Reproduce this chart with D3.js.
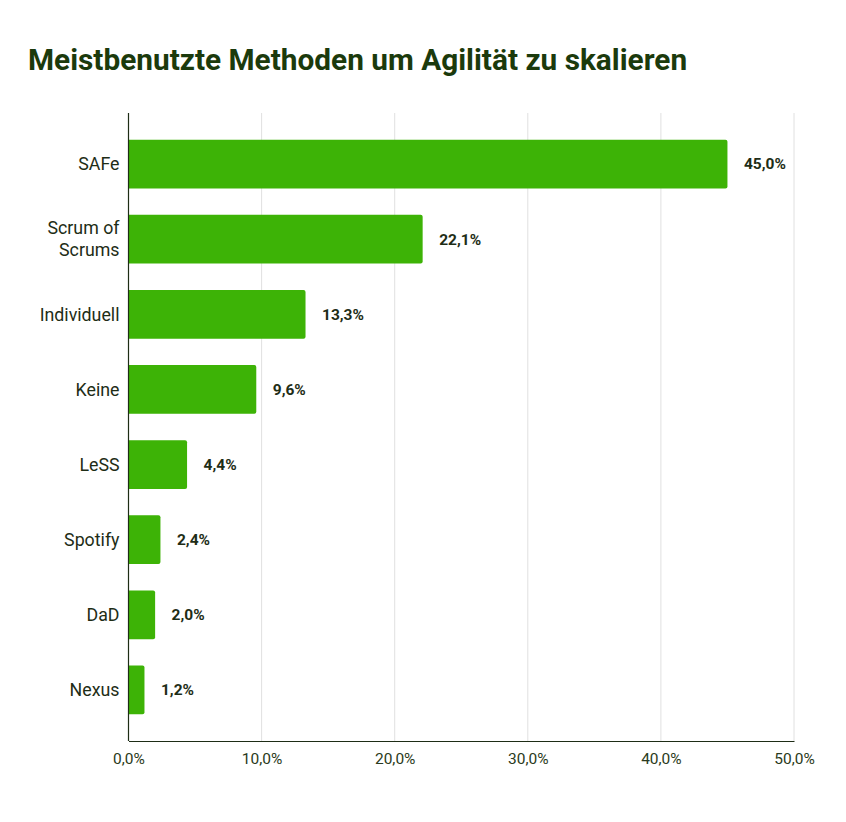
<!DOCTYPE html>
<html>
<head>
<meta charset="utf-8">
<script src="https://cdn.jsdelivr.net/npm/d3@7"></script>
<style>
  body { margin: 0; background: #fff; }
  text { font-family: Roboto, "Noto Sans", sans-serif; }
</style>
</head>
<body>
<svg id="chart" width="846" height="822"></svg>
<script>
// data
const methods = ["SAFe", "Scrum of Scrums", "Individuell", "Keine", "LeSS", "Spotify", "DaD", "Nexus"];
const shares = [45.0, 22.1, 13.3, 9.6, 4.4, 2.4, 2.0, 1.2];
const tickValues = [0, 10, 20, 30, 40, 50];

const svg = d3.select("#chart");
const plotLeft = 128.5, plotRight = 794, plotTop = 113, plotBottom = 741;
const fmt = v => d3.format(".1f")(v).replace(".", ",") + "%";

// title
svg.append("text")
    .attr("x", 28).attr("y", 70)
    .attr("font-size", 29.8).attr("font-weight", 700)
    .attr("fill", "#1b3a0c")
    .text("Meistbenutzte Methoden um Agilität zu skalieren");

const x = d3.scaleLinear().domain([0, 50]).range([plotLeft, plotRight]);
const y = d3.scaleBand()
    .domain(methods)
    .range([plotTop + 13.5, plotBottom - 13.5])
    .paddingInner(0.35)
    .paddingOuter(0.175);

// grid lines
svg.append("g").selectAll("line")
    .data(tickValues.slice(1))
    .join("line")
    .attr("x1", d => x(d)).attr("x2", d => x(d))
    .attr("y1", plotTop).attr("y2", plotBottom)
    .attr("stroke", "#e0e0e0").attr("stroke-width", 1);

// bars, rounded on the right end only
const r = 2;
svg.append("g").selectAll("path")
    .data(methods)
    .join("path")
    .attr("fill", "#3db306")
    .attr("d", (m, i) => {
        const x0 = x(0), x1 = x(shares[i]), y0 = y(m), h = y.bandwidth();
        return `M${x0},${y0}H${x1 - r}Q${x1},${y0} ${x1},${y0 + r}V${y0 + h - r}Q${x1},${y0 + h} ${x1 - r},${y0 + h}H${x0}Z`;
    });

// value labels
svg.append("g").selectAll("text")
    .data(methods)
    .join("text")
    .attr("x", (m, i) => x(shares[i]) + 16.5)
    .attr("y", m => y(m) + y.bandwidth() / 2)
    .attr("dy", "0.35em")
    .attr("font-size", 15.5).attr("font-weight", 700)
    .attr("fill", "#1e2d16")
    .text((m, i) => fmt(shares[i]));

// category labels (wrapped like the original)
const catG = svg.append("g");
methods.forEach(m => {
    const lines = m === "Scrum of Scrums" ? ["Scrum of", "Scrums"] : [m];
    const cy = y(m) + y.bandwidth() / 2;
    const t = catG.append("text")
        .attr("text-anchor", "end")
        .attr("font-size", 17.8)
        .attr("fill", "#1e2d16");
    lines.forEach((l, j) => {
        t.append("tspan")
            .attr("x", plotLeft - 9)
            .attr("y", cy + (j - (lines.length - 1) / 2) * 22)
            .attr("dy", "0.35em")
            .text(l);
    });
});

// axes
const xAxis = svg.append("g")
    .attr("transform", `translate(0,${plotBottom})`)
    .call(d3.axisBottom(x).tickValues(tickValues).tickSize(0).tickPadding(12).tickFormat(fmt));
xAxis.select(".domain").attr("stroke", "#1e2d16").attr("stroke-width", 1.2);
xAxis.selectAll("text").attr("font-size", 15.5).attr("fill", "#2a3a20");

svg.append("line")
    .attr("x1", plotLeft).attr("x2", plotLeft)
    .attr("y1", plotTop).attr("y2", plotBottom)
    .attr("stroke", "#1e2d16").attr("stroke-width", 1.2);
</script>
</body>
</html>
